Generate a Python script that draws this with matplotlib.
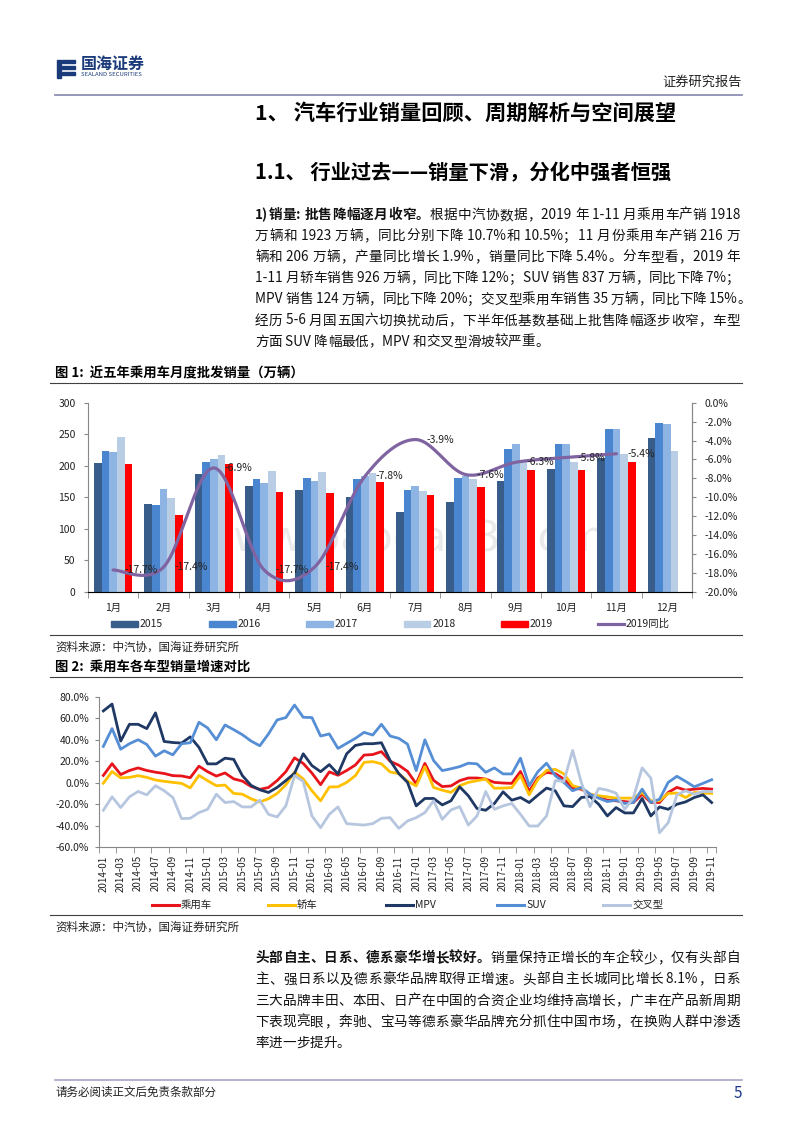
import re
import numpy as np
import matplotlib
matplotlib.use('Agg')
import matplotlib.pyplot as plt
from matplotlib.patches import Rectangle
from matplotlib.lines import Line2D

plt.rcParams['font.family'] = ['Noto Sans CJK SC', 'DejaVu Sans']
plt.rcParams['axes.unicode_minus'] = False

# =============================================================================
# data - figure 1 (monthly wholesale, 10k units) and 2019 yoy
# =============================================================================
months = ['1月', '2月', '3月', '4月', '5月', '6月', '7月', '8月', '9月', '10月', '11月', '12月']
sales_2015 = [204, 139, 187, 167, 161, 151, 126.5, 142, 175, 194, 212, 244]
sales_2016 = [223, 138, 206, 179, 180, 179, 161, 180, 227, 235, 259, 268]
sales_2017 = [222, 163.5, 211, 172.5, 176, 184, 168, 183, 235, 235, 259, 266]
sales_2018 = [246, 148, 217, 192, 190, 188, 160, 179, 206, 206, 218, 224]
sales_2019 = [202.5, 122, 202.5, 158, 156.5, 173.5, 153.5, 166, 193.5, 193.5, 206]
yoy_2019 = [-17.7, -17.4, -6.9, -17.7, -17.4, -7.8, -3.9, -7.6, -6.3, -5.8, -5.4]

# =============================================================================
# data - figure 2 (yoy growth by type, %, 2014-01 .. 2019-11)
# =============================================================================
passenger = [6.8, 17.8, 7.6, 11.4, 13.8, 11.4, 9.8, 8.6, 6.6, 6.3, 4.7, 15.4,
             10.3, 6.2, 9.1, 3.6, 1.5, -3.5, -6.2, -4.5, 2.0, 10.3, 23.2, 18.0,
             9.0, -1.8, 10.1, 7.0, 11.4, 16.5, 25.8, 26.3, 29.0, 20.0, 16.3, 10.6,
             -1.0, 18.0, 2.2, -3.6, -3.0, 1.9, 4.4, 4.4, 3.4, 0.3, -0.3, -0.6,
             10.5, -8.0, 4.4, 9.7, 8.5, 3.4, -5.0, -6.0, -10.7, -13.8, -16.3, -16.9,
             -17.6, -18.5, -10.7, -18.5, -18.5, -9.1, -4.4, -6.9, -6.0, -5.3, -6.0]
sedan = [-0.5, 10.5, 4.5, 5.0, 6.6, 5.0, 2.5, 1.3, 0.3, -0.6, -4.8, 6.8,
         1.9, -2.8, -2.2, -10.0, -10.7, -15.0, -18.0, -15.0, -10.0, -2.0, 10.0, 3.5,
         -7.5, -16.9, -4.0, -3.8, 0.3, 6.6, 19.0, 19.7, 17.6, 10.0, 8.5, 1.5,
         -3.0, 15.0, -4.4, -7.0, -9.0, -2.8, 0.3, 1.9, 3.4, -5.2, -5.0, -4.6,
         6.8, -11.3, 3.0, 11.5, 12.5, 8.2, -2.8, -5.0, -10.7, -12.2, -13.2, -14.4,
         -14.4, -14.4, -9.1, -16.9, -16.9, -10.0, -9.7, -13.8, -9.1, -9.7, -10.0]
mpv = [67.0, 73.4, 38.9, 54.5, 54.5, 50.5, 65.2, 38.5, 37.5, 37.0, 42.8, 33.0,
       17.6, 17.6, 22.9, 21.8, 6.6, -2.5, -6.6, -9.1, -4.4, 2.0, 8.8, 27.0,
       16.0, 10.3, 16.9, 8.2, 27.0, 34.8, 36.4, 36.4, 37.3, 20.7, 8.5, 0.3,
       -21.6, -14.7, -14.7, -20.7, -16.9, -3.8, -12.2, -24.1, -25.7, -19.4, -8.5, -16.3,
       -13.8, -18.5, -11.6, -5.0, -7.5, -21.6, -22.3, -13.8, -12.9, -20.1, -31.0, -23.2,
       -28.2, -28.2, -14.7, -31.0, -22.6, -24.8, -20.1, -17.9, -13.8, -11.3, -18.5]
suv = [33.9, 50.5, 31.3, 36.4, 40.1, 35.7, 24.8, 29.8, 26.0, 36.4, 37.3, 56.4,
       51.1, 40.1, 53.9, 49.5, 44.8, 38.9, 34.5, 45.5, 58.6, 60.8, 72.5, 61.1,
       60.8, 43.6, 45.5, 32.0, 36.7, 41.4, 47.0, 44.5, 54.5, 43.6, 41.4, 36.0,
       11.3, 40.0, 20.7, 11.3, 13.0, 15.0, 18.2, 17.6, 9.7, 13.8, 8.2, 8.2,
       22.9, -2.8, 10.3, 18.2, 6.6, 0.3, -7.5, -4.4, -10.7, -14.4, -17.6, -16.3,
       -19.4, -18.5, -6.0, -18.5, -15.4, 0.3, 6.0, 1.3, -3.8, -0.6, 2.8]
crossover = [-25.7, -13.2, -23.2, -13.2, -8.2, -11.3, -2.8, -7.5, -13.8, -33.5, -33.2, -27.9,
             -24.8, -10.7, -18.5, -17.6, -22.6, -22.6, -16.3, -29.5, -32.0, -21.6, 6.6, 1.3,
             -31.0, -42.0, -29.5, -22.6, -38.2, -38.9, -39.5, -38.2, -33.2, -32.6, -42.6, -35.7,
             -32.6, -27.9, -16.9, -34.2, -25.4, -22.3, -39.5, -31.0, -8.2, -24.8, -21.6, -19.4,
             -29.5, -40.4, -40.4, -31.0, 1.9, 1.3, 30.1, 0.3, -22.3, -5.3, -6.9, -9.7,
             -24.8, -13.8, 13.8, 4.4, -46.7, -37.3, -11.3, -7.5, -10.7, -8.2, -8.2]
dates = [f'{y}-{m:02d}' for y in range(2014, 2020) for m in range(1, 13)][:len(passenger)]

# =============================================================================
# page helpers (pixel coords of an 800x1132 page)
# =============================================================================
W, H = 800, 1132
fig = plt.figure(figsize=(8, 11.32), dpi=100)
renderer = fig.canvas.get_renderer()


def fx(x):
    return x / W


def fy(y):
    return 1 - y / H


def ptext(x, y, s, size=10, **kw):
    kw.setdefault('va', 'center')
    return fig.text(fx(x), fy(y), s, fontsize=size, **kw)


def hline(x0, x1, y, color='#404040', lw=0.8):
    fig.add_artist(Line2D([fx(x0), fx(x1)], [fy(y), fy(y)], color=color, lw=lw,
                          transform=fig.transFigure))


def body_line(segs, y, x0=255, x1=740, size=9.8, justify=True):
    """draw one justified line; segs = [(text, bold), ...]"""
    arts, widths = [], []
    for s, bold in segs:
        for t in re.findall(r'[\x00-\x7f]+|.', s):
            a = fig.text(0, fy(y), t, fontsize=size, va='center', ha='left',
                         fontweight='bold' if bold else 'normal', color='#111111')
            arts.append(a)
            widths.append(a.get_window_extent(renderer).width)
    gap = 0
    if justify and len(arts) > 1:
        gap = max(0, (x1 - x0 - sum(widths)) / (len(arts) - 1))
    x = x0
    for a, w in zip(arts, widths):
        a.set_x(fx(x))
        x += w + gap


def smooth(xv, yv, n=24):
    """excel style smoothed line (bezier through the points)"""
    P = np.column_stack([np.asarray(xv, float), np.asarray(yv, float)])
    P = np.vstack([P[0], P, P[-1]])
    t = np.linspace(0, 1, n)[:, None]
    out = []
    for i in range(1, len(P) - 2):
        p0, p1, p2, p3 = P[i - 1], P[i], P[i + 1], P[i + 2]
        c1 = p1 + (p2 - p0) / 6
        c2 = p2 - (p3 - p1) / 6
        out.append((1 - t)**3 * p1 + 3 * (1 - t)**2 * t * c1 + 3 * (1 - t) * t**2 * c2 + t**3 * p2)
    out = np.vstack(out)
    return out[:, 0], out[:, 1]


# =============================================================================
# header / headings / text
# =============================================================================
navy = '#1B3A7A'
fig.add_artist(Rectangle((fx(57), fy(78)), 4 / W, 18 / H, color=navy, transform=fig.transFigure))
for yy in (60, 66, 72):
    fig.add_artist(Rectangle((fx(62), fy(yy + 3)), 13 / W, 3 / H, color=navy, transform=fig.transFigure))
ptext(81, 64, '国海证券', 11.5, fontweight='bold', color=navy)
ptext(81, 75, 'SEALAND SECURITIES', 4.3, color=navy)
ptext(742, 82, '证券研究报告', 9.5, ha='right', color='#222222')
hline(55, 742, 95, color='#8F8FB5', lw=1.3)

ptext(255, 113, '1、 汽车行业销量回顾、周期解析与空间展望', 15.3, fontweight='bold')
ptext(255, 173, '1.1、 行业过去——销量下滑，分化中强者恒强', 14.6, fontweight='bold')

para1 = [
    [('1)销量: 批售降幅逐月收窄。', True), ('根据中汽协数据，2019 年 1-11 月乘用车产销 1918', False)],
    [('万辆和 1923 万辆，同比分别下降 10.7%和 10.5%；11 月份乘用车产销 216 万', False)],
    [('辆和 206 万辆，产量同比增长 1.9%，销量同比下降 5.4%。分车型看，2019 年', False)],
    [('1-11 月轿车销售 926 万辆，同比下降 12%；SUV 销售 837 万辆，同比下降 7%；', False)],
    [('MPV 销售 124 万辆，同比下降 20%；交叉型乘用车销售 35 万辆，同比下降 15%。', False)],
    [('经历 5-6 月国五国六切换扰动后，下半年低基数基础上批售降幅逐步收窄，车型', False)],
    [('方面 SUV 降幅最低，MPV 和交叉型滑坡较严重。', False)],
]
for k, segs in enumerate(para1):
    body_line(segs, 215 + 21.1 * k, justify=k < len(para1) - 1)

# =============================================================================
# figure 1
# =============================================================================
ptext(55, 373, '图 1:  近五年乘用车月度批发销量（万辆）', 9.6, fontweight='bold')
hline(50, 742, 383)
hline(50, 742, 635)

bar_series = [(sales_2015, '#385D8A', '2015'), (sales_2016, '#4A86D0', '2016'),
              (sales_2017, '#8DB4E2', '2017'), (sales_2018, '#B9CDE5', '2018'),
              (sales_2019, '#FF0000', '2019')]
ax1 = fig.add_axes([fx(88), fy(591.7), (692 - 88) / W, (591.7 - 402.7) / H])
x = np.arange(len(months))
bw = 0.153
for k, (vals, col, lab) in enumerate(bar_series):
    ax1.bar(x[:len(vals)] + (k - 2) * bw, vals, bw, color=col, zorder=2, linewidth=0)
ax1.set_xlim(-0.5, 11.5)
ax1.set_ylim(0, 300)
ax1.set_yticks(range(0, 301, 50))
ax1.set_xticks(x)
ax1.set_xticklabels(months)
ax1.set_xticks(np.arange(-0.5, 12, 1), minor=True)
ax1.tick_params(axis='x', which='major', length=0, pad=8, labelsize=7.5, colors='#222222')
ax1.tick_params(axis='x', which='minor', length=4, color='#888888')
ax1.tick_params(axis='y', length=3, color='#888888', labelsize=7.5, labelcolor='#222222', pad=6)
ax1.spines['top'].set_visible(False)
for s in ('left', 'bottom', 'right'):
    ax1.spines[s].set_color('#888888')
# faint site watermark, kept above the low data labels
ax1.text(0.52, (591.7 - 551) / 189, 'www.baogao8.com', transform=ax1.transAxes, fontsize=31,
         color='#EAEAEA', ha='center', va='baseline', zorder=1, family='DejaVu Sans')

ax1b = ax1.twinx()
ax1b.set_ylim(-20, 0)
ax1b.set_yticks(np.arange(-20, 0.1, 2))
ax1b.set_yticklabels([f'{v:.1f}%' for v in np.arange(-20, 0.1, 2)])
ax1b.tick_params(axis='y', length=3, color='#888888', labelsize=7.5, labelcolor='#222222', pad=6)
ax1b.spines['top'].set_visible(False)
ax1b.spines['right'].set_color('#888888')
ax1b.spines['left'].set_visible(False)
sx, sy = smooth(x[:len(yoy_2019)], yoy_2019)
ax1b.plot(sx, sy, color='#8064A2', lw=2.3, solid_capstyle='round', zorder=3)
for i, v in enumerate(yoy_2019):
    ax1b.annotate(f'{v:.1f}%', (i, v), xytext=(8, 0), textcoords='offset points',
                  fontsize=7.5, va='center', ha='left', color='#222222', zorder=4)

leg1 = [('#385D8A', '2015'), ('#4A86D0', '2016'), ('#8DB4E2', '2017'),
        ('#B9CDE5', '2018'), ('#FF0000', '2019')]
for k, (col, lab) in enumerate(leg1):
    x0 = 111 + 97.5 * k
    fig.add_artist(Rectangle((fx(x0), fy(627)), 27 / W, 6 / H, color=col, transform=fig.transFigure))
    ptext(x0 + 29, 624, lab, 7.5, color='#222222')
fig.add_artist(Line2D([fx(598), fx(624)], [fy(624), fy(624)], color='#8064A2', lw=2.3,
                      transform=fig.transFigure))
ptext(626, 624, '2019同比', 7.5, color='#222222')

ptext(55, 647, '资料来源：中汽协，国海证券研究所', 8.3, color='#222222')

# =============================================================================
# figure 2
# =============================================================================
ptext(55, 667, '图 2:  乘用车各车型销量增速对比', 9.6, fontweight='bold')
hline(50, 742, 677)
hline(50, 742, 915)

line_series = [(passenger, '#E8141B', '乘用车'), (sedan, '#FFC000', '轿车'),
               (mpv, '#1F3864', 'MPV'), (suv, '#558ED5', 'SUV'),
               (crossover, '#B7C6DF', '交叉型')]
ax2 = fig.add_axes([fx(99), fy(847), 617 / W, 150 / H])
xi = np.arange(len(dates))
for vals, col, lab in line_series:
    ax2.plot(xi, vals, color=col, lw=2.0, solid_joinstyle='round')
ax2.set_xlim(-0.5, len(dates) - 0.5)
ax2.set_ylim(-60, 80)
ax2.set_yticks(range(-60, 81, 20))
ax2.set_yticklabels([f'{v:.1f}%' for v in range(-60, 81, 20)])
ax2.set_xticks(xi[::2])
ax2.set_xticklabels(dates[::2], rotation=90)
ax2.set_xticks(np.append(xi[::2] - 0.5, len(dates) - 0.5), minor=True)
ax2.tick_params(axis='x', which='major', length=0, pad=6, labelsize=7, colors='#222222')
ax2.tick_params(axis='x', which='minor', length=4, color='#888888')
ax2.tick_params(axis='y', length=3, color='#888888', labelsize=7.5, labelcolor='#222222', pad=4)
ax2.spines['top'].set_visible(False)
ax2.spines['right'].set_visible(False)
ax2.spines['left'].set_color('#888888')
ax2.spines['bottom'].set_color('#888888')

leg2_x = [152, 268, 386, 497, 603]
for x0, (vals, col, lab) in zip(leg2_x, line_series):
    fig.add_artist(Line2D([fx(x0), fx(x0 + 27)], [fy(905), fy(905)], color=col, lw=2.2,
                          transform=fig.transFigure))
    ptext(x0 + 29, 905, lab, 7.5, color='#222222')

ptext(55, 927, '资料来源：中汽协，国海证券研究所', 8.3, color='#222222')

para2 = [
    [('头部自主、日系、德系豪华增长较好。', True), ('销量保持正增长的车企较少，仅有头部自', False)],
    [('主、强日系以及德系豪华品牌取得正增速。头部自主长城同比增长 8.1%，日系', False)],
    [('三大品牌丰田、本田、日产在中国的合资企业均维持高增长，广丰在产品新周期', False)],
    [('下表现亮眼，奔驰、宝马等德系豪华品牌充分抓住中国市场，在换购人群中渗透', False)],
    [('率进一步提升。', False)],
]
for k, segs in enumerate(para2):
    body_line(segs, 958 + 21.3 * k, justify=k < len(para2) - 1)

hline(55, 742, 1080, color='#A5A5C5', lw=1.2)
ptext(55, 1092, '请务必阅读正文后免责条款部分', 8.3, color='#222222')
ptext(742, 1094, '5', 11, ha='right', color='#1F3B8A')

fig.savefig('out.png', dpi=100)
